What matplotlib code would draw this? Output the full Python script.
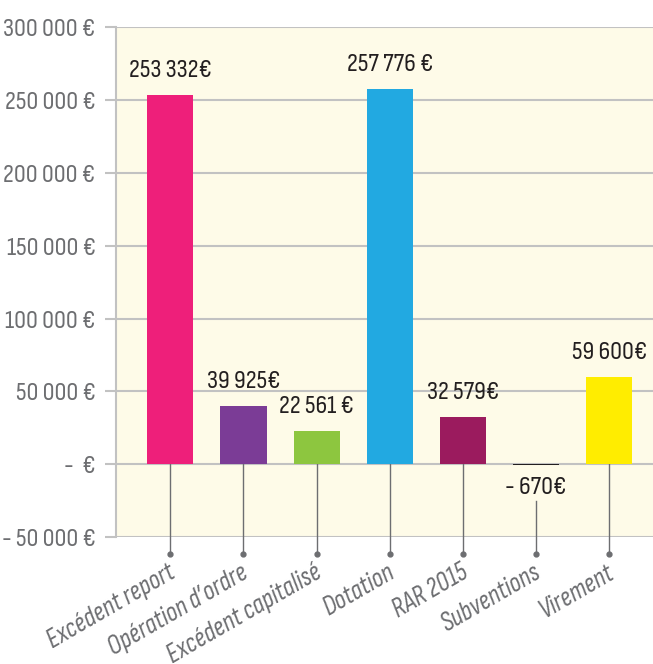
import matplotlib.pyplot as plt
import numpy as np

categories = ["Excédent report", "Opération d’ordre", "Excédent capitalisé",
              "Dotation", "RAR 2015", "Subventions", "Virement"]
values = [253332, 39925, 22561, 257776, 32579, -670, 59600]
value_labels = ["253 332€", "39 925€", "22 561 €", "257 776 €", "32 579€", "- 670€", "59 600€"]
colors = ["#EE1F7A", "#7B3C96", "#8DC63F", "#22A9E1", "#9B1B5E", "#231F20", "#FFED00"]
yticks = [-50000, 0, 50000, 100000, 150000, 200000, 250000, 300000]
ytick_labels = ["- 50 000 €", "-  €", "50 000 €", "100 000 €", "150 000 €",
                "200 000 €", "250 000 €", "300 000 €"]

GREY = "#6D6E71"
GRID = "#C2C2C2"
plt.rcParams["font.family"] = ["Sofia Sans Condensed", "DejaVu Sans"]

fig = plt.figure(figsize=(6.53, 6.64), dpi=100)
ax = fig.add_axes([0.178, 0.191, 0.822, 0.768])
ax.set_facecolor("#FEFBE8")

x = np.arange(len(categories))
ax.bar(x, values, width=0.63, color=colors, zorder=3)
ax.set_xlim(-0.74, 6.6)
ax.set_ylim(-50000, 300000)

ax.set_yticks(yticks)
ax.set_yticklabels(ytick_labels, fontsize=19, color=GREY)
ax.yaxis.grid(True, color=GRID, lw=1.5, zorder=1)
ax.tick_params(axis="y", length=8, width=1.5, color=GRID, pad=7)
ax.set_xticks([])
for s in ["top", "right", "bottom"]:
    ax.spines[s].set_visible(False)
ax.spines["left"].set_color(GRID)
ax.spines["left"].set_linewidth(1.5)

for i, (v, lab) in enumerate(zip(values, value_labels)):
    if v >= 0:
        ax.text(i, v + 9000, lab, ha="center", va="bottom", fontsize=19, color="#231F20")
        top = 0
    else:
        ax.text(i, -8000, lab, ha="center", va="top", fontsize=19, color="#231F20")
        top = -25000
    ax.plot([i, i], [top, -61600], color=GREY, lw=1, clip_on=False, zorder=2)
    ax.plot(i, -61600, "o", color=GREY, ms=3.5, clip_on=False, zorder=2)
    ax.text(i - 0.04, -66000, categories[i], ha="right", va="top", rotation=30,
            rotation_mode="anchor", fontsize=19.5, style="italic", color=GREY)

fig.savefig("out.png", dpi=100)
